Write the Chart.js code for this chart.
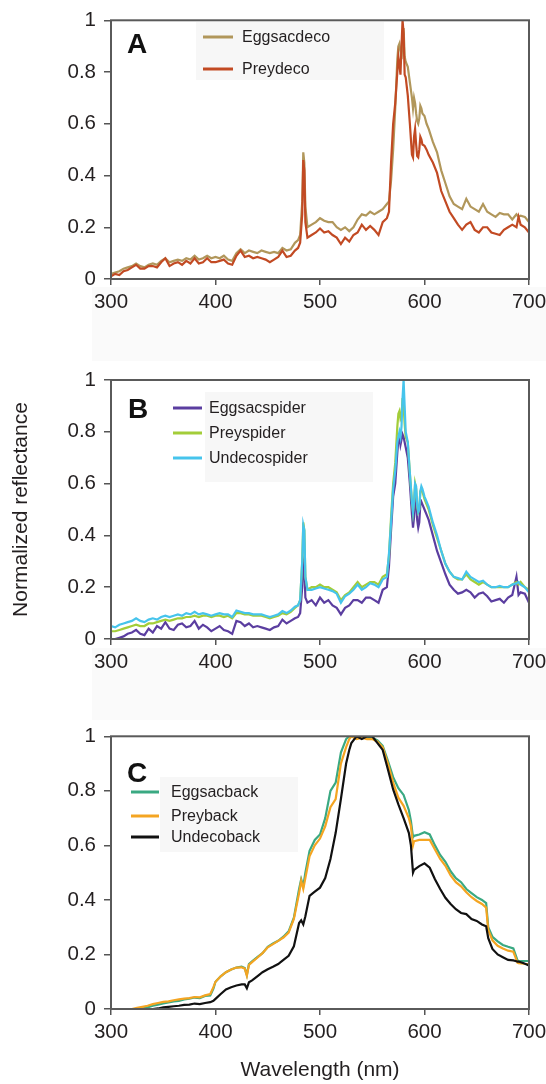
<!DOCTYPE html>
<html><head><meta charset="utf-8">
<script src="https://cdn.jsdelivr.net/npm/chart.js@4.4.1/dist/chart.umd.min.js"></script>
<style>
html,body{margin:0;padding:0;background:#fff;}
#wrap{position:relative;width:546px;height:1084px;overflow:hidden;background:#fff;}
canvas{position:absolute;left:0;}
.shade{position:absolute;background:#fafafa;}
</style></head><body>
<div id="wrap">
<div class="shade" style="left:92px;top:287px;width:454px;height:74px"></div>
<div class="shade" style="left:92px;top:648px;width:454px;height:72px"></div>
<canvas id="cA" width="546" height="330" style="top:0"></canvas>
<canvas id="cB" width="546" height="330" style="top:350px"></canvas>
<canvas id="cC" width="546" height="368" style="top:716px"></canvas>
</div>
<script>
// ---------- DATA ----------
const xTicks = [300, 400, 500, 600, 700];
const xTickLabels = ["300", "400", "500", "600", "700"];
const yTicks = [0, 0.2, 0.4, 0.6, 0.8, 1];
const yTickLabels = ["0", "0.2", "0.4", "0.6", "0.8", "1"];

// wavelengths (nm) shared by panels A and B
const waveAB = [
 300,304,308,312,316,320,324,328,332,336,340,344,348,352,356,360,364,368,372,376,380,384,388,392,396,400,404,408,412,416,420,424,428,432,436,440,444,448,452,456,460,464,468,472,476,
 479,481,483,484,485,486,488,
 492,496,500,504,508,512,516,520,524,528,532,536,540,544,548,552,556,560,564,
 566,568,570,572,574,575,576,577,578,579,580,581,582,584,586,588,589,590,591,592,593,594,595,596,597,598,600,602,604,
 608,612,616,620,624,628,632,636,640,644,648,652,656,660,664,668,672,676,680,684,688,690,692,696,700
];

// Panel A
const eggsacdeco = [
 0.02,0.025,0.03,0.04,0.045,0.05,0.06,0.05,0.045,0.055,
 0.06,0.055,0.07,0.08,0.065,0.07,0.075,0.07,0.08,0.075,
 0.09,0.075,0.08,0.09,0.08,0.085,0.08,0.09,0.075,0.07,
 0.1,0.115,0.1,0.11,0.105,0.1,0.11,0.105,0.1,0.105,
 0.1,0.12,0.11,0.115,0.14,
 0.15,0.17,0.3,0.49,0.45,0.28,0.2,
 0.21,0.22,0.235,0.225,0.22,0.22,0.2,0.19,0.2,0.185,0.2,0.23,0.25,0.245,0.26,0.25,0.26,0.27,0.29,
 0.3,0.38,0.5,0.66,0.85,0.9,0.91,0.88,0.85,0.93,0.97,0.86,0.84,0.82,0.76,0.7,0.66,0.7,0.68,0.64,0.61,0.6,0.62,0.67,0.66,0.64,0.63,0.6,0.58,
 0.53,0.49,0.42,0.37,0.32,0.29,0.28,0.27,0.31,0.28,0.27,0.26,0.29,0.26,0.25,0.24,0.255,0.25,0.25,0.23,0.25,0.24,0.245,0.24,0.22
];
const preydeco = [
 0.01,0.02,0.015,0.03,0.035,0.045,0.055,0.04,0.04,0.05,
 0.05,0.045,0.065,0.08,0.05,0.06,0.065,0.055,0.07,0.06,
 0.08,0.06,0.065,0.08,0.065,0.065,0.07,0.075,0.06,0.055,
 0.09,0.11,0.085,0.09,0.08,0.085,0.08,0.075,0.065,0.075,
 0.085,0.11,0.085,0.09,0.11,
 0.12,0.14,0.25,0.46,0.42,0.22,0.16,
 0.17,0.18,0.195,0.18,0.185,0.17,0.16,0.135,0.16,0.145,0.17,0.18,0.21,0.19,0.205,0.19,0.17,0.22,0.235,
 0.26,0.45,0.6,0.68,0.8,0.86,0.83,0.79,0.9,1.0,0.95,0.79,0.78,0.71,0.6,0.48,0.47,0.55,0.58,0.52,0.475,0.47,0.5,0.55,0.54,0.52,0.515,0.5,0.48,
 0.45,0.41,0.34,0.3,0.26,0.235,0.21,0.19,0.21,0.22,0.19,0.18,0.2,0.2,0.18,0.175,0.17,0.19,0.2,0.21,0.2,0.24,0.21,0.2,0.18
];

// Panel B
const eggsacspider = [
 0.0,0.0,0.005,0.01,0.02,0.025,0.035,0.02,0.015,0.04,
 0.025,0.05,0.04,0.065,0.04,0.035,0.055,0.06,0.045,0.05,
 0.07,0.04,0.055,0.045,0.03,0.04,0.05,0.035,0.03,0.02,
 0.07,0.065,0.05,0.06,0.045,0.05,0.045,0.04,0.035,0.045,
 0.05,0.075,0.06,0.07,0.08,
 0.085,0.1,0.2,0.3,0.28,0.16,0.14,
 0.15,0.13,0.16,0.14,0.15,0.13,0.12,0.095,0.12,0.13,0.15,0.15,0.14,0.16,0.16,0.15,0.14,0.19,0.2,
 0.28,0.42,0.55,0.6,0.72,0.77,0.78,0.75,0.77,0.79,0.78,0.76,0.74,0.7,0.6,0.48,0.43,0.47,0.55,0.53,0.46,0.43,0.45,0.52,0.53,0.52,0.5,0.48,0.46,
 0.4,0.34,0.295,0.25,0.21,0.19,0.175,0.18,0.19,0.18,0.16,0.175,0.18,0.165,0.145,0.15,0.155,0.14,0.16,0.17,0.24,0.17,0.18,0.175,0.14
];
const preyspider = [
 0.03,0.03,0.035,0.04,0.045,0.05,0.055,0.05,0.05,0.06,
 0.06,0.065,0.07,0.075,0.07,0.075,0.08,0.08,0.085,0.085,
 0.09,0.085,0.09,0.09,0.085,0.09,0.09,0.085,0.09,0.08,
 0.1,0.1,0.095,0.095,0.09,0.09,0.09,0.085,0.08,0.085,
 0.09,0.1,0.095,0.105,0.12,
 0.13,0.15,0.3,0.45,0.42,0.24,0.19,
 0.2,0.2,0.21,0.2,0.2,0.19,0.18,0.15,0.17,0.18,0.2,0.22,0.2,0.21,0.22,0.22,0.21,0.24,0.25,
 0.32,0.47,0.6,0.68,0.82,0.87,0.88,0.85,0.86,0.93,0.9,0.83,0.78,0.76,0.64,0.53,0.49,0.53,0.6,0.58,0.51,0.49,0.5,0.57,0.58,0.57,0.54,0.52,0.5,
 0.44,0.39,0.34,0.29,0.26,0.24,0.23,0.23,0.25,0.23,0.22,0.21,0.22,0.21,0.2,0.2,0.2,0.2,0.2,0.21,0.22,0.21,0.22,0.2,0.19
];
const undecospider = [
 0.05,0.045,0.055,0.06,0.065,0.07,0.08,0.07,0.065,0.075,
 0.08,0.075,0.085,0.09,0.085,0.09,0.095,0.09,0.1,0.095,
 0.105,0.095,0.1,0.095,0.09,0.095,0.1,0.095,0.095,0.085,
 0.11,0.105,0.1,0.1,0.095,0.095,0.095,0.09,0.085,0.09,
 0.095,0.108,0.1,0.11,0.125,
 0.13,0.15,0.3,0.44,0.42,0.24,0.19,
 0.19,0.195,0.2,0.195,0.19,0.185,0.175,0.14,0.165,0.175,0.19,0.21,0.19,0.2,0.215,0.21,0.2,0.23,0.24,
 0.33,0.45,0.58,0.65,0.76,0.78,0.8,0.78,0.82,0.93,1.0,0.9,0.8,0.76,0.64,0.53,0.49,0.53,0.6,0.59,0.52,0.49,0.5,0.57,0.59,0.58,0.55,0.53,0.51,
 0.45,0.4,0.34,0.29,0.26,0.24,0.235,0.23,0.26,0.24,0.23,0.22,0.225,0.21,0.2,0.2,0.205,0.2,0.2,0.21,0.215,0.22,0.21,0.2,0.18
];

// Panel C
const waveC = [
 300,305,310,315,320,325,330,335,340,345,350,355,360,365,370,375,380,385,390,395,
 398,400,405,410,415,420,425,428,430,432,435,440,445,450,455,460,465,470,475,480,
 482,484,486,490,495,500,505,510,515,520,525,528,530,535,540,545,550,555,560,565,
 570,575,580,585,587,589,590,595,600,605,610,615,620,625,630,635,640,645,650,655,
 659,661,665,670,675,680,685,687,689,690,695,700
];
const eggsacback = [
 0,0,0,0,0,0,0.002,0.006,0.012,0.016,0.02,0.024,0.028,0.03,0.035,0.038,0.042,0.04,0.048,0.05,
 0.075,0.1,0.12,0.135,0.145,0.152,0.155,0.15,0.125,0.165,0.175,0.19,0.205,0.228,0.24,0.25,0.265,0.285,0.335,0.44,
 0.476,0.45,0.5,0.58,0.62,0.64,0.7,0.8,0.83,0.94,0.99,1.0,1.0,0.995,1.0,0.995,0.995,0.985,0.965,0.91,
 0.85,0.81,0.785,0.73,0.69,0.63,0.635,0.64,0.648,0.64,0.6,0.565,0.54,0.505,0.48,0.465,0.44,0.425,0.41,0.4,
 0.388,0.3,0.265,0.248,0.235,0.228,0.222,0.2,0.178,0.176,0.176,0.176
];
const preyback = [
 0,0,0,0,0,0.004,0.008,0.012,0.018,0.022,0.026,0.028,0.032,0.035,0.038,0.04,0.044,0.043,0.05,0.055,
 0.08,0.1,0.12,0.135,0.145,0.152,0.153,0.148,0.122,0.162,0.172,0.188,0.205,0.226,0.238,0.25,0.262,0.28,0.33,0.425,
 0.47,0.44,0.48,0.56,0.6,0.625,0.67,0.74,0.77,0.9,0.96,0.99,1.0,0.99,0.995,0.99,0.99,0.98,0.96,0.9,
 0.83,0.775,0.745,0.7,0.67,0.6,0.615,0.62,0.62,0.62,0.585,0.55,0.525,0.49,0.465,0.45,0.428,0.41,0.396,0.385,
 0.372,0.29,0.252,0.232,0.222,0.214,0.21,0.19,0.17,0.168,0.166,0.165
];
const undecoback = [
 0,0,0,0,0,0,0,0,0,0.002,0.006,0.008,0.01,0.012,0.015,0.016,0.02,0.018,0.022,0.025,
 0.03,0.037,0.055,0.072,0.08,0.086,0.09,0.09,0.076,0.098,0.105,0.12,0.135,0.146,0.155,0.165,0.18,0.195,0.23,0.315,
 0.325,0.31,0.34,0.415,0.43,0.445,0.48,0.55,0.646,0.77,0.9,0.95,0.975,1.0,0.99,1.0,1.0,0.975,0.95,0.878,
 0.805,0.75,0.7,0.646,0.6,0.5,0.51,0.524,0.534,0.518,0.476,0.44,0.408,0.385,0.366,0.352,0.348,0.33,0.323,0.31,
 0.303,0.26,0.22,0.2,0.19,0.18,0.178,0.176,0.174,0.174,0.168,0.16
];

// ---------- RENDERING ----------
const FONT = '"Liberation Sans", Arial, Helvetica, sans-serif';
Chart.defaults.font.family = FONT;
Chart.defaults.font.size = 20.5;
Chart.defaults.color = '#231f20';

const decor = {
  id: 'decor',
  beforeDatasetsDraw(chart, args, o) {
    const ctx = chart.ctx;
    ctx.save();
    ctx.fillStyle = '#f7f7f7';
    ctx.fillRect(o.box[0], o.box[1], o.box[2], o.box[3]);
    ctx.restore();
  },
  afterDatasetsDraw(chart, args, o) {
    const ctx = chart.ctx, a = chart.chartArea;
    ctx.save();
    ctx.strokeStyle = '#5a5a5a';
    ctx.lineWidth = 2;
    ctx.strokeRect(a.left, a.top, a.right - a.left, a.bottom - a.top);
    ctx.font = '16px ' + FONT;
    ctx.textBaseline = 'middle';
    ctx.textAlign = 'left';
    chart.data.datasets.forEach((ds, i) => {
      const y = o.rows[i];
      ctx.strokeStyle = ds.borderColor;
      ctx.lineWidth = 3;
      ctx.beginPath();
      ctx.moveTo(o.lineX[0], y);
      ctx.lineTo(o.lineX[1], y);
      ctx.stroke();
      ctx.fillStyle = '#231f20';
      ctx.fillText(ds.label, o.textX, y + 1);
    });
    ctx.font = 'bold 28px ' + FONT;
    ctx.fillStyle = '#111';
    ctx.textBaseline = 'alphabetic';
    ctx.fillText(o.letter, o.letterPos[0], o.letterPos[1]);
    ctx.restore();
  }
};

function makePanel(id, waves, series, cfg) {
  const datasets = series.map(s => ({
    label: s.label,
    data: waves.map((w, i) => ({ x: w, y: s.values[i] })),
    borderColor: s.color,
    borderWidth: 2.2,
    pointRadius: 0,
    tension: 0,
    fill: false,
    order: s.order
  }));
  const tickGrid = { display: true, drawOnChartArea: false, drawTicks: true, tickLength: 6, color: '#555', lineWidth: 1.5 };
  return new Chart(document.getElementById(id), {
    type: 'line',
    data: { datasets },
    options: {
      responsive: false,
      animation: false,
      events: [],
      layout: { padding: { top: cfg.padTop, right: 17, left: 0, bottom: 0 } },
      plugins: { legend: { display: false }, tooltip: { enabled: false }, decor: cfg.decor },
      scales: {
        x: {
          type: 'linear', min: 300, max: 700,
          afterBuildTicks: s => { s.ticks = xTicks.map(v => ({ value: v })); },
          afterFit: s => { s.height = cfg.xHeight; s.paddingLeft = 0; s.paddingRight = 0; },
          ticks: { callback: (v, i) => xTickLabels[i], padding: 5, maxRotation: 0, autoSkip: false, color: '#231f20', font: { size: 20.5 } },
          grid: tickGrid,
          border: { display: false },
          title: cfg.xTitle || { display: false }
        },
        y: {
          type: 'linear', min: 0, max: 1,
          afterBuildTicks: s => { s.ticks = yTicks.map(v => ({ value: v })); },
          afterFit: s => { s.width = 111; },
          ticks: { callback: (v, i) => yTickLabels[i], padding: 8, autoSkip: false, color: '#231f20', font: { size: 20.5 } },
          grid: Object.assign({}, tickGrid, { tickLength: 7 }),
          border: { display: false },
          title: cfg.yTitle || { display: false }
        }
      }
    },
    plugins: [decor]
  });
}

makePanel('cA', waveAB, [
  { label: 'Eggsacdeco', values: eggsacdeco, color: '#b1975b', order: 1 },
  { label: 'Preydeco', values: preydeco, color: '#c24a23', order: 0 }
], {
  padTop: 14, xHeight: 51,
  decor: { box: [196, 22, 188, 58], lineX: [203, 233], textX: 242, rows: [37, 69], letter: 'A', letterPos: [127, 53] }
});

makePanel('cB', waveAB, [
  { label: 'Eggsacspider', values: eggsacspider, color: '#5b3ea0', order: 2 },
  { label: 'Preyspider', values: preyspider, color: '#a3cd39', order: 1 },
  { label: 'Undecospider', values: undecospider, color: '#46c4ec', order: 0 }
], {
  padTop: 30, xHeight: 41,
  yTitle: { display: true, text: 'Normalized reflectance', color: '#231f20', font: { size: 21 }, padding: { top: 9, bottom: 0 } },
  decor: { box: [205, 42, 168, 90], lineX: [173, 202], textX: 209, rows: [58, 83, 108], letter: 'B', letterPos: [128, 68] }
});

makePanel('cC', waveC, [
  { label: 'Eggsacback', values: eggsacback, color: '#3aa982', order: 2 },
  { label: 'Preyback', values: preyback, color: '#f4a522', order: 1 },
  { label: 'Undecoback', values: undecoback, color: '#111111', order: 0 }
], {
  padTop: 20, xHeight: 75,
  xTitle: { display: true, text: 'Wavelength (nm)', color: '#231f20', font: { size: 21 }, padding: { top: 0, bottom: 1 } },
  decor: { box: [160, 61, 138, 75], lineX: [131, 159], textX: 171, rows: [76, 100, 121], letter: 'C', letterPos: [127, 66] }
});
</script>
</body></html>
